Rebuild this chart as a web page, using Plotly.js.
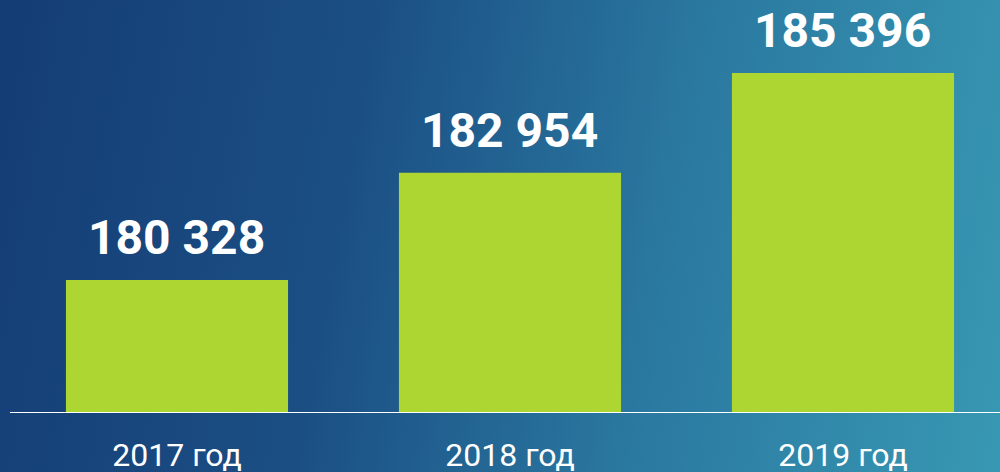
<!DOCTYPE html>
<html>
<head>
<meta charset="utf-8">
<script src="https://cdn.plot.ly/plotly-3.0.1.min.js"></script>
<style>
  html, body { margin: 0; padding: 0; width: 1000px; height: 472px; overflow: hidden; }
  #chart { width: 1000px; height: 472px;
    background: linear-gradient(100deg, #143c75 0%, #1b4f84 35%, #2a78a0 65%, #3898b3 100%); }
</style>
</head>
<body>
<div id="chart"></div>
<script>
const categories = ["2017 год", "2018 год", "2019 год"];
const values = [180328, 182954, 185396];

function fmt(v) {
  return String(v).replace(/\B(?=(\d{3})+(?!\d))/g, " ");
}

const xPos = categories.map((c, i) => i);
const yBase = 177072;
const yTop = 187182;

const trace = {
  type: "bar",
  x: xPos,
  y: values.map(v => v - yBase),
  base: yBase,
  width: 0.667,
  marker: { color: "#add633", line: { width: 0 } },
  hoverinfo: "skip"
};

const annotations = values.map((v, i) => ({
  x: xPos[i], y: v, xref: "x", yref: "y",
  text: fmt(v), showarrow: false,
  yanchor: "bottom", yshift: 12,
  font: { family: "Roboto", size: 48, color: "#ffffff", weight: 700 }
}));

const layout = {
  width: 1000, height: 472,
  margin: { l: 0, r: 0, t: 0, b: 59 },
  paper_bgcolor: "rgba(0,0,0,0)",
  plot_bgcolor: "rgba(0,0,0,0)",
  showlegend: false,
  xaxis: {
    range: [-0.5315, 2.4715],
    tickmode: "array", tickvals: xPos, ticktext: categories,
    showgrid: false, zeroline: false, showline: false, ticks: "",
    ticklabelstandoff: 20,
    tickfont: { family: "Roboto", size: 32, color: "#ffffff" },
    fixedrange: true
  },
  yaxis: {
    range: [yBase, yTop], visible: false, showgrid: false, zeroline: false, fixedrange: true
  },
  shapes: [{
    type: "line", xref: "paper", yref: "y", x0: 0.01, x1: 1, y0: yBase, y1: yBase,
    line: { color: "#ffffff", width: 2 }
  }],
  annotations: annotations
};

Plotly.newPlot("chart", [trace], layout, { displayModeBar: false, staticPlot: true });
</script>
</body>
</html>
